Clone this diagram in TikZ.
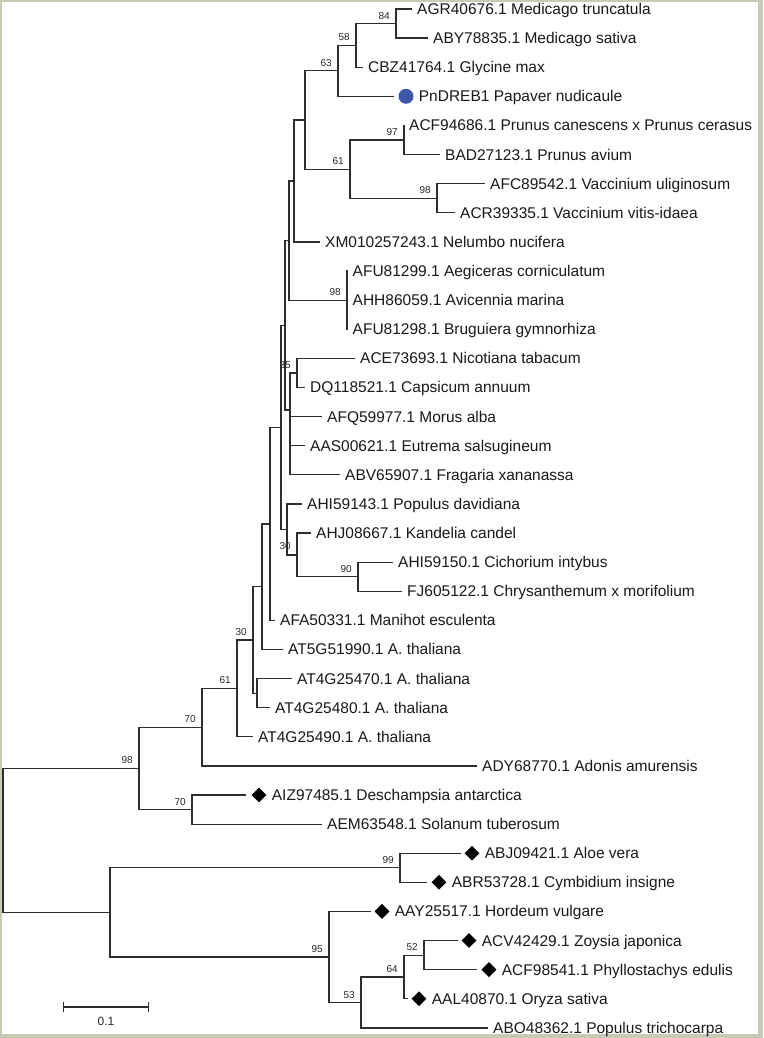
\documentclass[tikz,border=0pt]{standalone}
\usepackage{fontspec}
\setmainfont{Liberation Sans}
\usetikzlibrary{shapes.geometric,arrows.meta}

\definecolor{framegray}{RGB}{198,202,182}
\definecolor{branchgray}{RGB}{45,45,45}
\definecolor{dotblue}{RGB}{62,86,170}

\tikzset{
  branch/.style={draw=branchgray, line width=1.2pt},
  taxon/.style={anchor=west, inner xsep=5pt, inner ysep=0pt, text height=11pt, text depth=0pt,
    font=\fontsize{15.5}{18}\selectfont, text=black!90},
  boot/.style={anchor=base east, inner sep=0pt, xshift=-6pt, yshift=4.5pt,
    font=\fontsize{10}{12}\selectfont, text=black!85},
  gem/.style={diamond, fill=black, inner sep=0pt, minimum size=15pt},
  blob/.style={circle, fill=dotblue, inner sep=0pt, minimum size=15pt},
}

\begin{document}
\begin{tikzpicture}[x=1pt, y=-1pt]
    % Frame
    \fill[framegray] (0,0) rectangle (763,1038);
    \fill[white] (2,2) rectangle (758,1034);
    \useasboundingbox (0,0) rectangle (763,1038);

    % Internal nodes
    \coordinate (b84) at (396,23.6);
    \coordinate (b58) at (356,45.4);
    \coordinate (b63) at (338,70.9);
    \coordinate (b97) at (404,140.0);
    \coordinate (b98a) at (437,198.3);
    \coordinate (b61) at (350,169.2);
    \coordinate (u1) at (305,120.0);
    \coordinate (u2) at (294,181.0);
    \coordinate (b98b) at (347,300.1);
    \coordinate (u3) at (289,240.5);
    \coordinate (b35) at (297,372.9);
    \coordinate (u5) at (290,410.0);
    \coordinate (u4) at (285,325.3);
    \coordinate (b90) at (358,576.7);
    \coordinate (u6) at (297,554.9);
    \coordinate (b30a) at (287,529.4);
    \coordinate (u7) at (281,427.4);
    \coordinate (u8) at (270,523.9);
    \coordinate (u9) at (262,586.7);
    \coordinate (u10) at (257,693.1);
    \coordinate (b30b) at (253,639.9);
    \coordinate (b61b) at (237,688.4);
    \coordinate (b70a) at (202,727.2);
    \coordinate (b70b) at (192,809.6);
    \coordinate (b98c) at (139,768.4);
    \coordinate (b99) at (400,867.8);
    \coordinate (b52) at (424,955.1);
    \coordinate (b64) at (404,977.0);
    \coordinate (b53) at (361,1002.5);
    \coordinate (b95) at (329,956.9);
    \coordinate (u11) at (110,912.4);
    \coordinate (root) at (3,840.4);

    % Markers
    \node[blob] (pnd) at (406,96.3) {};
    \node[gem] (aizd) at (259,795.0) {};
    \node[gem] (abjd) at (472,853.2) {};
    \node[gem] (abrd) at (439,882.3) {};
    \node[gem] (aayd) at (382,911.4) {};
    \node[gem] (acvd) at (469,940.5) {};
    \node[gem] (acf2d) at (489,969.6) {};
    \node[gem] (aald) at (419,998.8) {};

    % Taxa
    \node[taxon] (agr) at (412,9.0) {AGR40676.1 Medicago truncatula};
    \node[taxon] (aby) at (428,38.1) {ABY78835.1 Medicago sativa};
    \node[taxon] (cbz) at (363,67.2) {CBZ41764.1 Glycine max};
    \node[taxon] (pn) at (pnd.east) {PnDREB1 Papaver nudicaule};
    \node[taxon] (acf) at (404,125.4) {ACF94686.1 Prunus canescens x Prunus cerasus};
    \node[taxon] (bad) at (440,154.6) {BAD27123.1 Prunus avium};
    \node[taxon] (afc) at (485,183.7) {AFC89542.1 Vaccinium uliginosum};
    \node[taxon] (acr) at (455,212.8) {ACR39335.1 Vaccinium vitis-idaea};
    \node[taxon] (xm) at (320,241.9) {XM010257243.1 Nelumbo nucifera};
    \node[taxon] (afu1) at (347.5,271.0) {AFU81299.1 Aegiceras corniculatum};
    \node[taxon] (ahh) at (347.5,300.1) {AHH86059.1 Avicennia marina};
    \node[taxon] (afu2) at (347.5,329.2) {AFU81298.1 Bruguiera gymnorhiza};
    \node[taxon] (ace) at (355,358.3) {ACE73693.1 Nicotiana tabacum};
    \node[taxon] (dq) at (305,387.4) {DQ118521.1 Capsicum annuum};
    \node[taxon] (afq) at (322,416.5) {AFQ59977.1 Morus alba};
    \node[taxon] (aas) at (305,445.7) {AAS00621.1 Eutrema salsugineum};
    \node[taxon] (abv) at (340,474.8) {ABV65907.1 Fragaria xananassa};
    \node[taxon] (ahi1) at (302,503.9) {AHI59143.1 Populus davidiana};
    \node[taxon] (ahj) at (311,533.0) {AHJ08667.1 Kandelia candel};
    \node[taxon] (ahi2) at (393,562.1) {AHI59150.1 Cichorium intybus};
    \node[taxon] (fj) at (402,591.2) {FJ605122.1 Chrysanthemum x morifolium};
    \node[taxon] (afa) at (275,620.3) {AFA50331.1 Manihot esculenta};
    \node[taxon] (at5) at (283,649.4) {AT5G51990.1 A. thaliana};
    \node[taxon] (at470) at (292,678.5) {AT4G25470.1 A. thaliana};
    \node[taxon] (at480) at (270,707.6) {AT4G25480.1 A. thaliana};
    \node[taxon] (at490) at (253,736.8) {AT4G25490.1 A. thaliana};
    \node[taxon] (ady) at (477,765.9) {ADY68770.1 Adonis amurensis};
    \node[taxon] (aiz) at (aizd.east) {AIZ97485.1 Deschampsia antarctica};
    \node[taxon] (aem) at (322,824.1) {AEM63548.1 Solanum tuberosum};
    \node[taxon] (abj) at (abjd.east) {ABJ09421.1 Aloe vera};
    \node[taxon] (abr) at (abrd.east) {ABR53728.1 Cymbidium insigne};
    \node[taxon] (aay) at (aayd.east) {AAY25517.1 Hordeum vulgare};
    \node[taxon] (acv) at (acvd.east) {ACV42429.1 Zoysia japonica};
    \node[taxon] (acf2) at (acf2d.east) {ACF98541.1 Phyllostachys edulis};
    \node[taxon] (aal) at (aald.east) {AAL40870.1 Oryza sativa};
    \node[taxon] (abo) at (488,1027.9) {ABO48362.1 Populus trichocarpa};

    % Branches to taxa
    \draw[branch] (b84) |- (agr.west);
    \draw[branch] (b84) |- (aby.west);
    \draw[branch] (b58) |- (cbz.west);
    \draw[branch] (b97) |- (acf.west);
    \draw[branch] (b97) |- (bad.west);
    \draw[branch] (b98a) |- (afc.west);
    \draw[branch] (b98a) |- (acr.west);
    \draw[branch] (u2) |- (xm.west);
    \draw[branch] (b98b) |- (afu1.west);
    \draw[branch] (b98b) |- (ahh.west);
    \draw[branch] (b98b) |- (afu2.west);
    \draw[branch] (b35) |- (ace.west);
    \draw[branch] (b35) |- (dq.west);
    \draw[branch] (u5) |- (afq.west);
    \draw[branch] (u5) |- (aas.west);
    \draw[branch] (u5) |- (abv.west);
    \draw[branch] (b30a) |- (ahi1.west);
    \draw[branch] (u6) |- (ahj.west);
    \draw[branch] (b90) |- (ahi2.west);
    \draw[branch] (b90) |- (fj.west);
    \draw[branch] (u8) |- (afa.west);
    \draw[branch] (u9) |- (at5.west);
    \draw[branch] (u10) |- (at470.west);
    \draw[branch] (u10) |- (at480.west);
    \draw[branch] (b61b) |- (at490.west);
    \draw[branch] (b70a) |- (ady.west);
    \draw[branch] (b70b) |- (aem.west);
    \draw[branch] (b53) |- (abo.west);

    % Branches to marked taxa
    \draw[branch, shorten >=4pt] (b63) |- (pnd.west);
    \draw[branch, shorten >=5pt] (b70b) |- (aizd.west);
    \draw[branch, shorten >=3pt] (b99) |- (abjd.west);
    \draw[branch, shorten >=4pt] (b99) |- (abrd.west);
    \draw[branch, shorten >=3pt] (b95) |- (aayd.west);
    \draw[branch, shorten >=3pt] (b52) |- (acvd.west);
    \draw[branch, shorten >=4pt] (b52) |- (acf2d.west);
    \draw[branch, shorten >=3pt] (b64) |- (aald.west);

    % Inner branches
    \draw[branch] (b58) |- (b84);
    \draw[branch] (b63) |- (b58);
    \draw[branch] (u1) |- (b63);
    \draw[branch] (b61) |- (b97);
    \draw[branch] (b61) |- (b98a);
    \draw[branch] (u1) |- (b61);
    \draw[branch] (u2) |- (u1);
    \draw[branch] (u3) |- (u2);
    \draw[branch] (u3) |- (b98b);
    \draw[branch] (u4) |- (u3);
    \draw[branch] (u5) |- (b35);
    \draw[branch] (u4) |- (u5);
    \draw[branch] (u7) |- (u4);
    \draw[branch] (u6) |- (b90);
    \draw[branch] (b30a) |- (u6);
    \draw[branch] (u7) |- (b30a);
    \draw[branch] (u8) |- (u7);
    \draw[branch] (u9) |- (u8);
    \draw[branch] (b30b) |- (u9);
    \draw[branch] (b30b) |- (u10);
    \draw[branch] (b61b) |- (b30b);
    \draw[branch] (b70a) |- (b61b);
    \draw[branch] (b98c) |- (b70a);
    \draw[branch] (b98c) |- (b70b);
    \draw[branch] (root) |- (b98c);
    \draw[branch] (b64) |- (b52);
    \draw[branch] (b53) |- (b64);
    \draw[branch] (b95) |- (b53);
    \draw[branch] (u11) |- (b99);
    \draw[branch] (u11) |- (b95);
    \draw[branch] (root) |- (u11);

    % Bootstrap values
    \foreach \n/\v in {b84/84, b58/58, b63/63, b97/97, b61/61, b98a/98, b98b/98,
        b35/35, b90/90, b30b/30, b61b/61, b70a/70, b98c/98, b70b/70,
        b99/99, b95/95, b52/52, b64/64, b53/53} {
        \node[boot] at (\n) {\v};
    }
    \node[boot, xshift=10pt, yshift=-25pt] at (b30a) {30};

    % Scale bar
    \coordinate (sbl) at (63,1007);
    \coordinate (sbr) at (149,1007);
    \draw[branch, {Bar[width=10pt]}-{Bar[width=10pt]}] (sbl) -- (sbr)
        node[midway, anchor=base, yshift=-18pt, font=\fontsize{12}{14}\selectfont, text=black!85] {0.1};
\end{tikzpicture}
\end{document}
